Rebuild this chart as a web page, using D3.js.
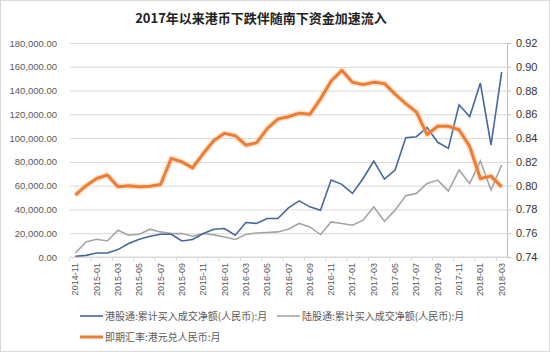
<!DOCTYPE html>
<html>
<head>
<meta charset="utf-8">
<script src="https://cdn.jsdelivr.net/npm/d3@7"></script>
<style>
  body { margin: 0; background: #fff; }
  svg { display: block; }
</style>
</head>
<body>
<div id="chart"></div>
<script>
// data
const months = [
    '2014-11', '2014-12',
    '2015-01', '2015-02', '2015-03', '2015-04', '2015-05', '2015-06',
    '2015-07', '2015-08', '2015-09', '2015-10', '2015-11', '2015-12',
    '2016-01', '2016-02', '2016-03', '2016-04', '2016-05', '2016-06',
    '2016-07', '2016-08', '2016-09', '2016-10', '2016-11', '2016-12',
    '2017-01', '2017-02', '2017-03', '2017-04', '2017-05', '2017-06',
    '2017-07', '2017-08', '2017-09', '2017-10', '2017-11', '2017-12',
    '2018-01', '2018-02', '2018-03'
];
// 港股通 累计买入成交净额
const southbound = [
    600, 1400, 3400, 3400, 6200, 11300, 14900, 17500, 19100, 19100,
    13500, 14700, 19700, 23400, 24000, 18300, 29000, 28200, 32400, 32400,
    41300, 47200, 42200, 39400, 64700, 61100, 53500, 66000, 80700, 65500,
    73100, 100400, 101200, 109000, 96500, 91400, 128000, 118100, 146300, 94200,
    155500
];
// 陆股通 累计买入成交净额
const northbound = [
    3400, 12700, 14900, 13500, 22500, 18300, 19100, 23400, 21100, 19700,
    19700, 17500, 19700, 18600, 16900, 14700, 18900, 20200, 20600, 21100,
    23400, 28200, 25300, 18900, 29500, 28200, 26700, 31000, 42200, 30100,
    39400, 51500, 53500, 61900, 64700, 55400, 73100, 61900, 80700, 56300,
    77400
];
// 即期汇率 港元兑人民币
const hkdCny = [
    0.792, 0.800, 0.806, 0.809, 0.799, 0.800, 0.799, 0.7995, 0.801, 0.823,
    0.820, 0.815, 0.827, 0.838, 0.844, 0.842, 0.834, 0.836, 0.848, 0.856,
    0.858, 0.861, 0.860, 0.873, 0.888, 0.897, 0.887, 0.885, 0.887, 0.886,
    0.877, 0.869, 0.862, 0.843, 0.850, 0.850, 0.847, 0.833, 0.806, 0.808,
    0.799
];
const leftTicks = [0, 20000, 40000, 60000, 80000, 100000, 120000, 140000, 160000, 180000];
const rightTicks = [0.74, 0.76, 0.78, 0.80, 0.82, 0.84, 0.86, 0.88, 0.90, 0.92];

const title = '2017年以来港币下跌伴随南下资金加速流入';
const legendItems = [
    {label: '港股通:累计买入成交净额(人民币):月', color: '#44689e', w: 1.6, x: 80, y: 316},
    {label: '陆股通:累计买入成交净额(人民币):月', color: '#a5a5a5', w: 1.6, x: 277, y: 316},
    {label: '即期汇率:港元兑人民币:月', color: '#ed7d31', w: 3, x: 80, y: 337}
];

let width = 550;
let height = 352;
let margin = {top: 43, right: 43, bottom: 95, left: 70};
let chartWidth = width - margin.left - margin.right;
let chartHeight = height - margin.top - margin.bottom;

const latinFont = '"Liberation Sans", Arial, sans-serif';
const cjkFont = '"Noto Sans CJK SC", "Liberation Sans", sans-serif';

let svg = d3.select('#chart')
    .append('svg')
    .attr('width', width)
    .attr('height', height);

// outer frame
svg.append('rect')
    .attr('x', 0.5).attr('y', 0.5)
    .attr('width', width - 1).attr('height', height - 1)
    .attr('fill', '#fff')
    .attr('stroke', '#d9d9d9');

svg.append('text')
    .attr('x', 261)
    .attr('y', 23)
    .attr('text-anchor', 'middle')
    .style('font-family', cjkFont)
    .style('font-size', '13px')
    .style('font-weight', 'bold')
    .attr('fill', '#222')
    .text(title);

let g = svg.append('g')
    .attr('transform', `translate(${margin.left},${margin.top})`);

// scales
let xScale = d3.scaleBand()
    .domain(months)
    .range([0, chartWidth])
    .paddingInner(0)
    .paddingOuter(0);
let xMid = d => xScale(d) + xScale.bandwidth() / 2;

let yLeft = d3.scaleLinear()
    .domain([0, 180000])
    .range([chartHeight, 0]);

let yRight = d3.scaleLinear()
    .domain([0.74, 0.92])
    .range([chartHeight, 0]);

// gridlines + left labels
let leftAxis = d3.axisLeft(yLeft)
    .tickValues(leftTicks)
    .tickSize(-chartWidth)
    .tickPadding(13)
    .tickFormat(d3.format(',.2f'));

let leftG = g.append('g').call(leftAxis);
leftG.select('.domain').remove();
leftG.selectAll('.tick line').attr('stroke', '#d9d9d9');
leftG.selectAll('.tick text')
    .style('font-family', latinFont)
    .style('font-size', '9.5px')
    .attr('fill', '#595959');

// right axis
let rightAxis = d3.axisRight(yRight)
    .tickValues(rightTicks)
    .tickSize(4)
    .tickPadding(5)
    .tickFormat(d3.format('.2f'));

let rightG = g.append('g')
    .attr('transform', `translate(${chartWidth},0)`)
    .call(rightAxis);
rightG.select('.domain').attr('stroke', '#bfbfbf');
rightG.selectAll('.tick line').attr('stroke', '#bfbfbf');
rightG.selectAll('.tick text')
    .style('font-family', latinFont)
    .style('font-size', '11px')
    .attr('fill', '#333');

// bottom axis
let bottomG = g.append('g')
    .attr('transform', `translate(0,${chartHeight})`);
bottomG.append('line')
    .attr('x1', 0).attr('x2', chartWidth)
    .attr('stroke', '#d9d9d9');
bottomG.selectAll('.xtick')
    .data(months.filter((d, i) => i % 2 === 0))
    .enter()
    .append('line')
    .attr('x1', d => xScale(d))
    .attr('x2', d => xScale(d))
    .attr('y2', 4)
    .attr('stroke', '#d9d9d9');
bottomG.selectAll('.xlabel')
    .data(months.filter((d, i) => i % 2 === 0))
    .enter()
    .append('text')
    .attr('transform', d => `translate(${xMid(d) + 3},6) rotate(-90)`)
    .attr('text-anchor', 'end')
    .style('font-family', latinFont)
    .style('font-size', '9px')
    .attr('fill', '#595959')
    .text(d => d);

// lines
let leftLine = d3.line()
    .x((d, i) => xMid(months[i]))
    .y(d => yLeft(d));
let rightLine = d3.line()
    .x((d, i) => xMid(months[i]))
    .y(d => yRight(d));

g.append('path')
    .datum(northbound)
    .attr('d', leftLine)
    .attr('fill', 'none')
    .attr('stroke', '#a5a5a5')
    .attr('stroke-width', 1.6);

g.append('path')
    .datum(southbound)
    .attr('d', leftLine)
    .attr('fill', 'none')
    .attr('stroke', '#44689e')
    .attr('stroke-width', 1.6);

// soft halo under the orange line
g.append('path')
    .datum(hkdCny)
    .attr('d', rightLine)
    .attr('fill', 'none')
    .attr('stroke', '#f4b183')
    .attr('stroke-opacity', 0.35)
    .attr('stroke-width', 6)
    .attr('stroke-linejoin', 'round');

g.append('path')
    .datum(hkdCny)
    .attr('d', rightLine)
    .attr('fill', 'none')
    .attr('stroke', '#ed7d31')
    .attr('stroke-width', 3)
    .attr('stroke-linejoin', 'round');

// legend
let legend = svg.append('g');
legendItems.forEach(item => {
    legend.append('line')
        .attr('x1', item.x).attr('x2', item.x + 23)
        .attr('y1', item.y).attr('y2', item.y)
        .attr('stroke', item.color)
        .attr('stroke-width', item.w);
    legend.append('text')
        .attr('x', item.x + 25)
        .attr('y', item.y + 3.5)
        .style('font-family', cjkFont)
        .style('font-size', '10px')
        .attr('fill', '#595959')
        .text(item.label);
});
</script>
</body>
</html>
